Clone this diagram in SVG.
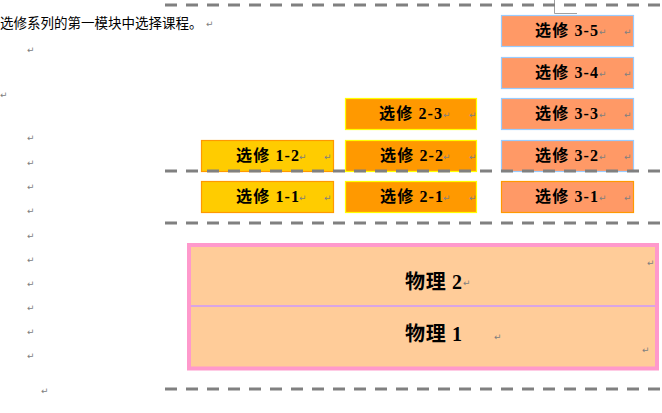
<svg xmlns="http://www.w3.org/2000/svg" width="662" height="413" viewBox="0 0 662 413">
<style>
.dash{stroke:#808080;stroke-width:3;stroke-dasharray:12 9;fill:none}
.c1{fill:#FFCC00;stroke:#FF9900;stroke-width:1.2}
.c2{fill:#FF9900;stroke:#FFFF00;stroke-width:1.2}
.c3{fill:#FF9966;stroke:#99CCFF;stroke-width:1.2}
.c3b{fill:#FF9966;stroke:#FF9900;stroke-width:1.2}
.lbl{font-family:"Liberation Serif","Noto Sans CJK SC",serif;font-weight:bold;font-size:16px;fill:#000}
.big{font-family:"Liberation Serif","Noto Sans CJK SC",serif;font-weight:bold;font-size:20px;fill:#000}
.pm{font-family:"DejaVu Sans",sans-serif;font-size:9px;fill:#808080}
.body{font-family:"Noto Sans CJK SC",sans-serif;font-size:13.5px;fill:#000}
</style>
<rect width="662" height="413" fill="#fff"/>
<text class="body" x="0" y="28">选修系列的第一模块中选择课程。</text>
<text class="pm" x="206" y="27">↵</text>
<g id="para-marks">
<text class="pm" x="27" y="53">↵</text>
<text class="pm" x="0" y="98">↵</text>
<text class="pm" x="27" y="141">↵</text>
<text class="pm" x="27" y="166">↵</text>
<text class="pm" x="27" y="190">↵</text>
<text class="pm" x="27" y="214">↵</text>
<text class="pm" x="27" y="239">↵</text>
<text class="pm" x="27" y="263">↵</text>
<text class="pm" x="27" y="287">↵</text>
<text class="pm" x="27" y="311">↵</text>
<text class="pm" x="27" y="335">↵</text>
<text class="pm" x="27" y="359">↵</text>
<text class="pm" x="41" y="394">↵</text>
</g>
<path d="M554.5 0V13.5H577" stroke="#A0A0A0" stroke-width="1" fill="none"/>
<g id="n3-5"><rect class="c3" x="501.5" y="15.5" width="132" height="31"/><text class="lbl" x="535" y="36" textLength="63" lengthAdjust="spacing">选修 3-5</text><text class="pm" x="599" y="35">↵</text><text class="pm" x="624" y="35">↵</text></g>
<g id="n3-4"><rect class="c3" x="501.5" y="57.5" width="132" height="31"/><text class="lbl" x="535" y="78" textLength="63" lengthAdjust="spacing">选修 3-4</text><text class="pm" x="599" y="77">↵</text><text class="pm" x="624" y="77">↵</text></g>
<g id="n3-3"><rect class="c3" x="501.5" y="98.5" width="132" height="31"/><text class="lbl" x="535" y="119" textLength="63" lengthAdjust="spacing">选修 3-3</text><text class="pm" x="599" y="118">↵</text><text class="pm" x="624" y="118">↵</text></g>
<g id="n3-2"><rect class="c3" x="501.5" y="140.5" width="132" height="31"/><text class="lbl" x="535" y="161" textLength="63" lengthAdjust="spacing">选修 3-2</text><text class="pm" x="599" y="160">↵</text><text class="pm" x="624" y="160">↵</text></g>
<g id="n3-1"><rect class="c3b" x="501.5" y="181.5" width="132" height="31"/><text class="lbl" x="535" y="202" textLength="63" lengthAdjust="spacing">选修 3-1</text><text class="pm" x="599" y="201">↵</text><text class="pm" x="624" y="201">↵</text></g>
<g id="n2-3"><rect class="c2" x="345.5" y="98.5" width="131" height="31"/><text class="lbl" x="379" y="119" textLength="63" lengthAdjust="spacing">选修 2-3</text><text class="pm" x="443" y="118">↵</text><text class="pm" x="469" y="118">↵</text></g>
<g id="n2-2"><rect class="c2" x="345.5" y="140.5" width="131" height="31"/><text class="lbl" x="380" y="161" textLength="63" lengthAdjust="spacing">选修 2-2</text><text class="pm" x="443" y="160">↵</text><text class="pm" x="469" y="160">↵</text></g>
<g id="n2-1"><rect class="c2" x="345.5" y="181.5" width="131" height="31"/><text class="lbl" x="380" y="202" textLength="63" lengthAdjust="spacing">选修 2-1</text><text class="pm" x="443" y="201">↵</text><text class="pm" x="469" y="201">↵</text></g>
<g id="n1-2"><rect class="c1" x="201.5" y="140.5" width="132" height="31"/><text class="lbl" x="236" y="161" textLength="63" lengthAdjust="spacing">选修 1-2</text><text class="pm" x="299" y="160">↵</text><text class="pm" x="324" y="160">↵</text></g>
<g id="n1-1"><rect class="c1" x="201.5" y="181.5" width="132" height="31"/><text class="lbl" x="236" y="202" textLength="63" lengthAdjust="spacing">选修 1-1</text><text class="pm" x="299" y="201">↵</text><text class="pm" x="324" y="201">↵</text></g>
<g id="physics">
<rect x="189" y="245" width="468" height="123.5" fill="#FFCC99" stroke="#FF99CC" stroke-width="4"/>
<line x1="191" y1="306" x2="655" y2="306" stroke="#CC99FF" stroke-width="1.5"/>
<text class="big" x="405" y="289" textLength="57" lengthAdjust="spacing">物理 2</text>
<text class="pm" x="463" y="286">↵</text>
<text class="pm" x="647" y="266">↵</text>
<text class="big" x="405" y="341" textLength="57" lengthAdjust="spacing">物理 1</text>
<text class="pm" x="494" y="340">↵</text>
<text class="pm" x="642" y="353">↵</text>
</g>
<g id="connectors">
<line class="dash" x1="165" y1="5" x2="662" y2="5"/>
<line class="dash" x1="165" y1="171" x2="662" y2="171"/>
<line class="dash" x1="165" y1="223" x2="662" y2="223"/>
<line class="dash" x1="165" y1="389" x2="662" y2="389"/>
</g>
</svg>
